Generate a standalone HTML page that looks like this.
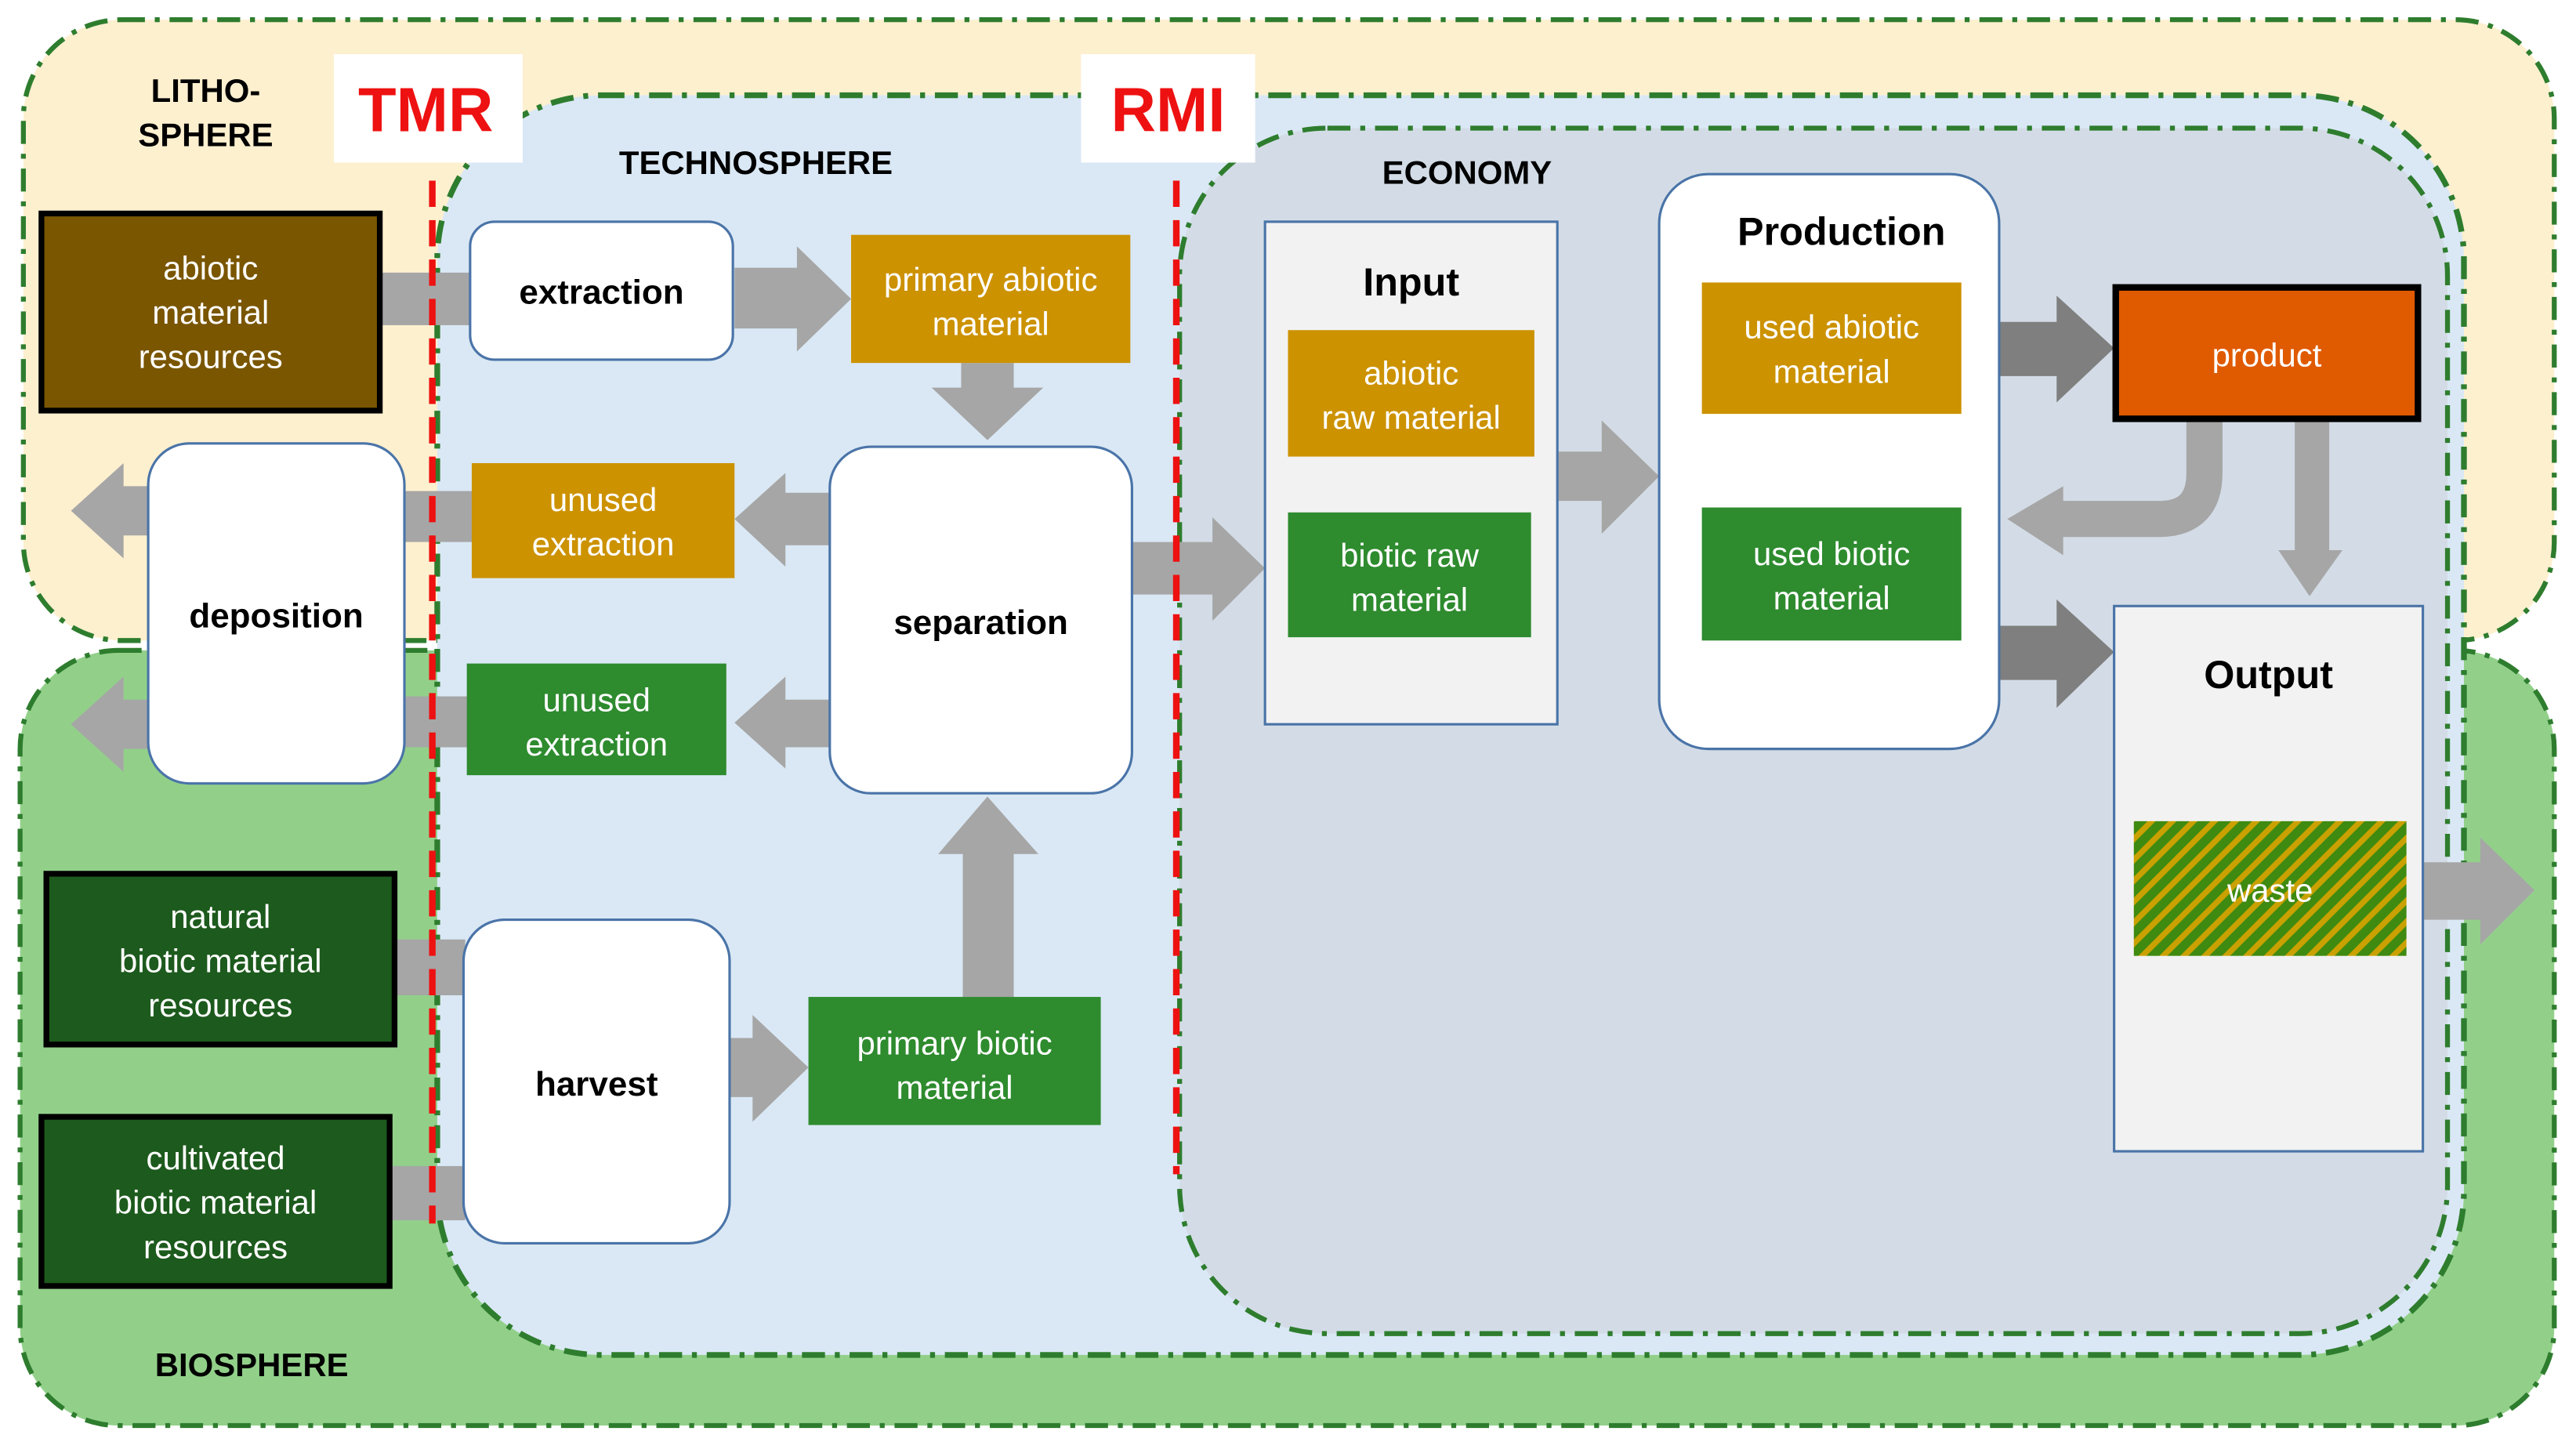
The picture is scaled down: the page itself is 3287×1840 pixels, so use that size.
<!DOCTYPE html>
<html><head><meta charset="utf-8"><style>
html,body{margin:0;padding:0;background:#fff}
svg{display:block}
text{font-family:"Liberation Sans",Arial,sans-serif}
</style></head><body>
<svg width="3287" height="1840" viewBox="0 0 1568 878" xmlns="http://www.w3.org/2000/svg">
<defs>
<pattern id="hatch" width="9" height="9" patternUnits="userSpaceOnUse" patternTransform="rotate(-45)">
<rect width="9" height="9" fill="#3f8a10"/><rect width="9" height="3.5" fill="#c9a100"/>
</pattern>
</defs>
<rect width="1568" height="878" fill="#fff"/>
<rect x="14" y="12" width="1541" height="378" rx="60" fill="#fdf0cf" stroke="#2e7d2e" stroke-width="3" stroke-dasharray="14 6 3 6"/>
<rect x="12" y="396" width="1543" height="472" rx="60" fill="#92d08a" stroke="#2e7d2e" stroke-width="3" stroke-dasharray="14 6 3 6"/>
<rect x="266" y="58" width="1234" height="767" rx="100" fill="#dae8f5" stroke="#2e7d2e" stroke-width="3.5" stroke-dasharray="14 6 3 6"/>
<rect x="718" y="78" width="772" height="734" rx="90" fill="#d3dce6" stroke="#2e7d2e" stroke-width="3" stroke-dasharray="14 6 3 6"/>

<text x="125" y="62" font-size="20" font-weight="bold" text-anchor="middle">LITHO-</text>
<text x="125" y="89" font-size="20" font-weight="bold" text-anchor="middle">SPHERE</text>
<text x="460" y="106" font-size="20" font-weight="bold" text-anchor="middle">TECHNOSPHERE</text>
<text x="893" y="112" font-size="20" font-weight="bold" text-anchor="middle">ECONOMY</text>
<text x="153" y="838" font-size="20" font-weight="bold" text-anchor="middle">BIOSPHERE</text>

<rect x="203" y="33" width="115" height="66" fill="#fff"/>
<text x="259" y="80" font-size="38" font-weight="bold" fill="#ee1111" text-anchor="middle">TMR</text>
<rect x="658" y="33" width="106" height="66" fill="#fff"/>
<text x="711" y="80" font-size="38" font-weight="bold" fill="#ee1111" text-anchor="middle">RMI</text>

<g fill="#a6a6a6">
<rect x="232" y="166" width="56" height="32"/>
<polygon points="447,163 485,163 485,150 518,182 485,214 485,200 447,200"/>
<polygon points="585,221 617,221 617,236 635,236 601,268 567,236 585,236"/>
<polygon points="505,300 478,300 478,288 447,316 478,345 478,332 505,332"/>
<polygon points="505,426 478,426 478,412 447,440 478,468 478,455 505,455"/>
<rect x="246" y="299" width="42" height="31"/>
<rect x="246" y="424" width="40" height="31"/>
<polygon points="90,296 75,296 75,282 43,311 75,340 75,326 90,326"/>
<polygon points="90,426 75,426 75,412 43,441 75,470 75,456 90,456"/>
<rect x="240" y="572" width="43" height="34"/>
<rect x="237" y="710" width="46" height="33"/>
<polygon points="444,632 458,632 458,618 492,650 458,683 458,668 444,668"/>
<polygon points="586,607 617,607 617,520 632,520 601,485 571,520 586,520"/>
<polygon points="689,330 738,330 738,315 770,346 738,378 738,362 689,362"/>
<polygon points="948,275 975,275 975,256 1010,290 975,325 975,305 948,305"/>
<polygon points="1397,256 1418,256 1418,335 1426,335 1406,363 1387,335 1397,335"/>
<polygon points="1256,296 1222,316 1256,338"/>
</g>
<path d="M1342,256 V288 Q1342,316 1314,316 H1254" fill="none" stroke="#a6a6a6" stroke-width="22"/>
<polygon points="1475,525 1510,525 1510,510 1543,542 1510,575 1510,560 1475,560" fill="#a6a6a6"/>
<g fill="#7f7f7f">
<polygon points="1217,196 1252,196 1252,180 1287,212 1252,245 1252,229 1217,229"/>
<polygon points="1217,381 1252,381 1252,365 1287,397 1252,431 1252,414 1217,414"/>
</g>

<line x1="263" y1="110" x2="263" y2="745" stroke="#ee1111" stroke-width="4" stroke-dasharray="16 8"/>
<line x1="716" y1="110" x2="716" y2="715" stroke="#ee1111" stroke-width="4" stroke-dasharray="16 8"/>

<g font-size="20" fill="#fff" text-anchor="middle">
<rect x="25" y="130" width="206" height="120" fill="#7a5600" stroke="#000" stroke-width="3.5"/>
<text x="128" y="170">abiotic</text><text x="128" y="197">material</text><text x="128" y="224">resources</text>
<rect x="518" y="143" width="170" height="78" fill="#cc9200"/>
<text x="603" y="177">primary abiotic</text><text x="603" y="204">material</text>
<rect x="287" y="282" width="160" height="70" fill="#cc9200"/>
<text x="367" y="311">unused</text><text x="367" y="338">extraction</text>
<rect x="284" y="404" width="158" height="68" fill="#2e8b2e"/>
<text x="363" y="433">unused</text><text x="363" y="460">extraction</text>
<rect x="28" y="532" width="212" height="104" fill="#1d5a1d" stroke="#000" stroke-width="3.5"/>
<text x="134" y="565">natural</text><text x="134" y="592">biotic material</text><text x="134" y="619">resources</text>
<rect x="25" y="680" width="212" height="103" fill="#1d5a1d" stroke="#000" stroke-width="3.5"/>
<text x="131" y="712">cultivated</text><text x="131" y="739">biotic material</text><text x="131" y="766">resources</text>
<rect x="492" y="607" width="178" height="78" fill="#2e8b2e"/>
<text x="581" y="642">primary biotic</text><text x="581" y="669">material</text>
</g>

<g fill="#fff" stroke="#4a74a8" stroke-width="1.5">
<rect x="286" y="135" width="160" height="84" rx="15"/>
<rect x="90" y="270" width="156" height="207" rx="25"/>
<rect x="505" y="272" width="184" height="211" rx="25"/>
<rect x="282" y="560" width="162" height="197" rx="25"/>
<rect x="1010" y="106" width="207" height="350" rx="30"/>
<rect x="770" y="135" width="178" height="306" fill="#f2f2f2"/>
<rect x="1287" y="369" width="188" height="332" fill="#f2f2f2"/>
</g>
<g font-size="21" font-weight="bold" text-anchor="middle">
<text x="366" y="185">extraction</text>
<text x="168" y="382">deposition</text>
<text x="597" y="386">separation</text>
<text x="363" y="667">harvest</text>
</g>
<g font-size="24" font-weight="bold" text-anchor="middle">
<text x="859" y="180">Input</text>
<text x="1121" y="149">Production</text>
<text x="1381" y="419">Output</text>
</g>

<g font-size="20" fill="#fff" text-anchor="middle">
<rect x="784" y="201" width="150" height="77" fill="#cc9200"/>
<text x="859" y="234">abiotic</text><text x="859" y="261">raw material</text>
<rect x="784" y="312" width="148" height="76" fill="#2e8b2e"/>
<text x="858" y="345">biotic raw</text><text x="858" y="372">material</text>
<rect x="1036" y="172" width="158" height="80" fill="#cc9200"/>
<text x="1115" y="206">used abiotic</text><text x="1115" y="233">material</text>
<rect x="1036" y="309" width="158" height="81" fill="#2e8b2e"/>
<text x="1115" y="344">used biotic</text><text x="1115" y="371">material</text>
<rect x="1288" y="175" width="184" height="80" fill="#e05a00" stroke="#000" stroke-width="4"/>
<text x="1380" y="223">product</text>
<rect x="1299" y="500" width="166" height="82" fill="url(#hatch)"/>
<text x="1382" y="549">waste</text>
</g>
</svg>
</body></html>
